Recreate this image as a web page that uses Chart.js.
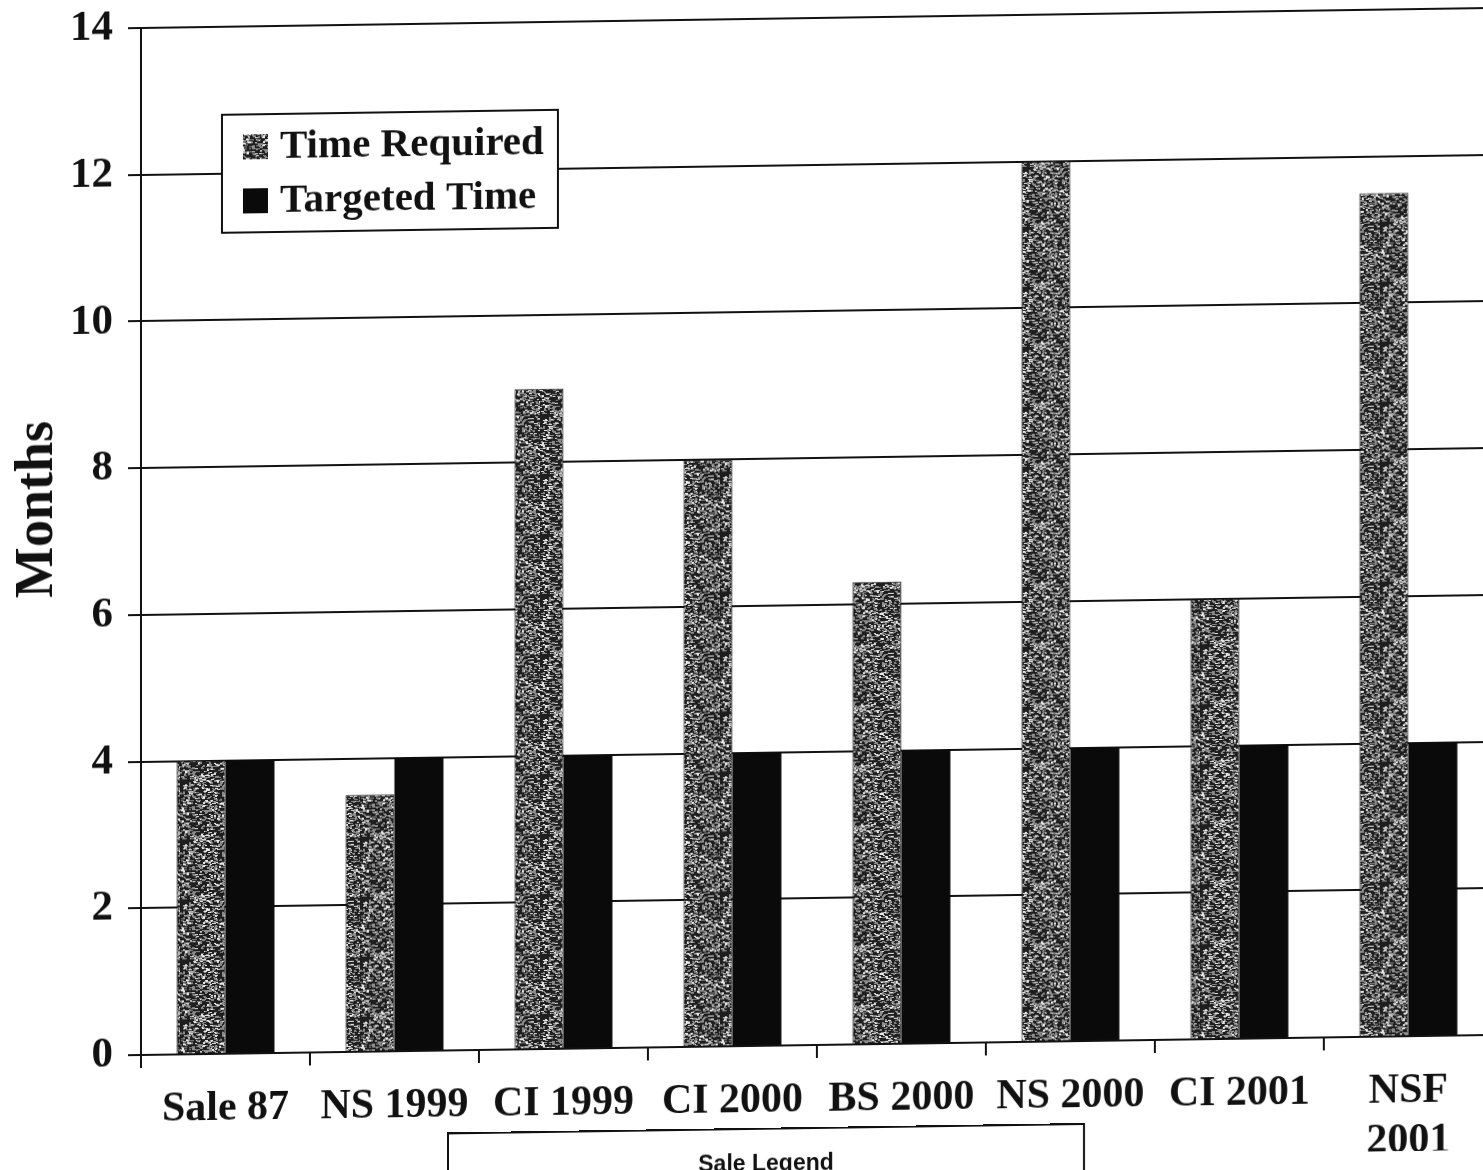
<!DOCTYPE html>
<html>
<head>
<meta charset="utf-8">
<script src="https://cdn.jsdelivr.net/npm/chart.js@4.4.1/dist/chart.umd.min.js"></script>
<style>
  html, body { margin: 0; padding: 0; background: #fff; overflow: hidden; width: 1483px; height: 1170px; }
  /* the scanned page is slightly skewed: right side sits ~20px higher */
  #wrap { position: absolute; left: 0; top: 0; width: 1500px; height: 1170px; transform: skewY(-0.85deg); transform-origin: 141px 0; }
  #saleLegend { position: absolute; left: 447px; top: 1137px; width: 638px; height: 100px; border: 2px solid #111;
    background: #fff; box-sizing: border-box; text-align: center; padding-top: 20px;
    font: bold 23px "Liberation Sans Narrow", "Liberation Sans", sans-serif; color: #111; }
</style>
</head>
<body>
<div id="wrap">
  <canvas id="myChart" width="1500" height="1170"></canvas>
  <div id="saleLegend">Sale Legend</div>
</div>
<script>
// --- chart data ---
const categories = ['Sale 87', 'NS 1999', 'CI 1999', 'CI 2000', 'BS 2000', 'NS 2000', 'CI 2001', ['NSF', '2001']];
const timeRequired = [4, 3.5, 9, 8, 6.3, 12, 6, 11.5];
const targetedTime = [4, 4, 4, 4, 4, 4, 4, 4];
const yMin = 0, yMax = 14, yStep = 2;

const canvas = document.getElementById('myChart');
const ctx = canvas.getContext('2d');

// speckled fill for the "Time Required" bars (photocopy look)
function makeSpeckle() {
  const c = document.createElement('canvas');
  c.width = 60; c.height = 60;
  const g = c.getContext('2d');
  g.fillStyle = '#1e1e1e';
  g.fillRect(0, 0, 60, 60);
  let s = 12345;
  const next = () => { s = (Math.imul(s, 1103515245) + 12345) >>> 0; return s >>> 8; };
  for (let i = 0; i < 750; i++) {
    const x = next() % 60, y = next() % 60;
    g.fillStyle = (i % 3 === 0) ? '#e8e8e8' : '#8c8c8c';
    g.fillRect(x, y, 2 + (i % 2), 1 + (i % 4 === 0 ? 1 : 0));
  }
  return ctx.createPattern(c, 'repeat');
}
const speckle = makeSpeckle();

// legend box inside the plot + the rotated "Months" title
const boxLegend = {
  id: 'boxLegend',
  afterDraw(chart) {
    const c = chart.ctx;
    c.save();
    c.fillStyle = '#fff';
    c.fillRect(222, 116, 336, 118);
    c.lineWidth = 2;
    c.strokeStyle = '#111';
    c.strokeRect(222, 116, 336, 118);
    chart.data.datasets.forEach((ds, i) => {
      const y = 148 + i * 54;
      c.fillStyle = ds.backgroundColor;
      c.fillRect(243, y - 12, 25, 25);
      c.fillStyle = '#111';
      c.font = 'bold 41px "Liberation Serif", serif';
      c.textBaseline = 'middle';
      c.fillText(ds.label, 280, y + 1);
    });
    c.translate(38, 508);
    c.rotate(-Math.PI / 2);
    c.textAlign = 'center';
    c.textBaseline = 'middle';
    c.font = 'bold 54px "Liberation Serif", serif';
    c.fillText('Months', 0, 0);
    c.restore();
  }
};

new Chart(ctx, {
  type: 'bar',
  data: {
    labels: categories,
    datasets: [
      { label: 'Time Required', data: timeRequired, backgroundColor: speckle, borderColor: '#111', borderWidth: 1 },
      { label: 'Targeted Time', data: targetedTime, backgroundColor: '#0a0a0a' }
    ]
  },
  options: {
    responsive: false,
    animation: false,
    devicePixelRatio: 1,
    layout: { padding: { left: 0, top: 28, right: 7, bottom: 0 } },
    datasets: { bar: { categoryPercentage: 0.58, barPercentage: 1.0 } },
    plugins: { legend: { display: false }, tooltip: { enabled: false } },
    scales: {
      x: {
        grid: { display: true, drawOnChartArea: false, drawTicks: true, tickLength: 13, color: '#111', lineWidth: 2, offset: true },
        border: { display: true, color: '#111', width: 2 },
        ticks: { color: '#111', padding: 17, maxRotation: 0, autoSkip: false,
          font: { family: '"Liberation Serif", serif', weight: 'bold', size: 42, lineHeight: 1.2 } },
        afterFit(scale) { scale.height = 115; }
      },
      y: {
        min: yMin, max: yMax,
        grid: { color: '#111', lineWidth: 2, tickLength: 13, drawTicks: true },
        border: { display: true, color: '#111', width: 2 },
        ticks: { stepSize: yStep, color: '#111', padding: 15,
          font: { family: '"Liberation Serif", serif', weight: 'bold', size: 43, lineHeight: 0.6 } },
        afterFit(scale) { scale.width = 141; }
      }
    }
  },
  plugins: [boxLegend]
});
</script>
</body>
</html>
